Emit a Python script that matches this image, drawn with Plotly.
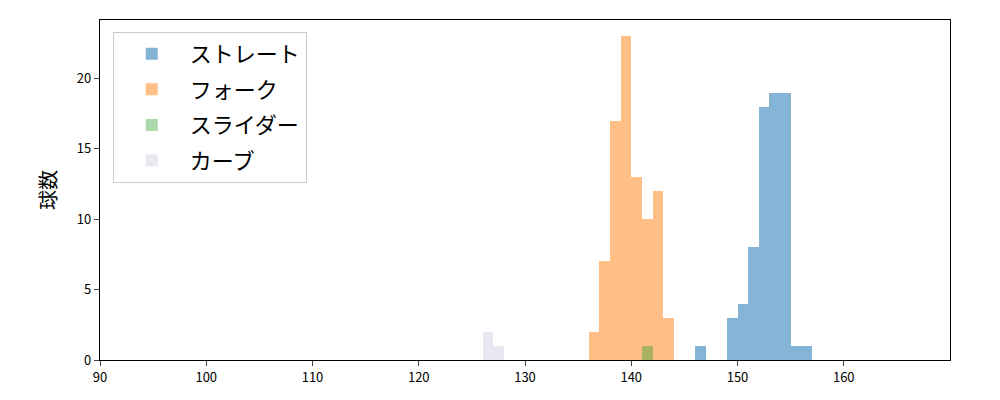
import plotly.graph_objects as go

# bin left edges (km/h) and counts per pitch type
straight_bins = [146, 149, 150, 151, 152, 153, 154, 155, 156]
straight_counts = [1, 3, 4, 8, 18, 19, 19, 1, 1]

fork_bins = [136, 137, 138, 139, 140, 141, 142, 143]
fork_counts = [2, 7, 17, 23, 13, 10, 12, 3]

slider_bins = [141]
slider_counts = [1]

curve_bins = [126, 127]
curve_counts = [2, 1]

names = ["ストレート", "フォーク", "スライダー", "カーブ"]
colors = ["rgba(31,119,180,0.55)", "rgba(255,127,14,0.5)",
          "rgba(44,160,44,0.4)", "rgba(214,214,234,0.55)"]
series = [(straight_bins, straight_counts), (fork_bins, fork_counts),
          (slider_bins, slider_counts), (curve_bins, curve_counts)]

x_ticks = [90, 100, 110, 120, 130, 140, 150, 160]
y_ticks = [0, 5, 10, 15, 20]

fig = go.Figure()
for name, color, (bins, counts) in zip(names, colors, series):
    fig.add_trace(go.Bar(
        x=[b + 0.5 for b in bins], y=counts, width=1.0, name=name,
        legendgroup=name,
        marker=dict(color=color, line=dict(width=0)),
    ))

font = "Noto Sans CJK JP, DejaVu Sans, sans-serif"
fig.update_layout(
    width=1000, height=400,
    margin=dict(l=92, r=58, t=12, b=48, autoexpand=False),
    barmode="overlay", bargap=0,
    plot_bgcolor="white", paper_bgcolor="white",
    font=dict(family=font, size=13, color="black"),
    legend=dict(
        x=0.015, y=0.965, xanchor="left", yanchor="top",
        bgcolor="rgba(255,255,255,0.8)", bordercolor="#cccccc", borderwidth=1,
        font=dict(size=22, family=font), itemwidth=66, tracegroupgap=4,
    ),
    xaxis=dict(range=[90, 170], tickvals=x_ticks, ticks="outside", ticklen=5,
               showline=True, linecolor="black", linewidth=1.2, mirror=True,
               showgrid=False, zeroline=False),
    yaxis=dict(range=[0, 24.15], tickvals=y_ticks, ticks="outside", ticklen=5,
               showline=True, linecolor="black", linewidth=1.2, mirror=True,
               showgrid=False, zeroline=False,
               title=dict(text="球数", font=dict(size=20, family=font), standoff=14)),
)

fig.write_html("out.html")
